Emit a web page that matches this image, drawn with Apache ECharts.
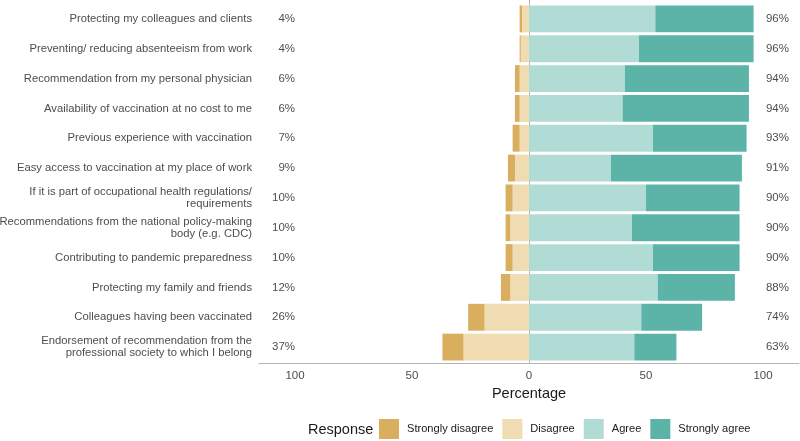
<!DOCTYPE html>
<html><head><meta charset="utf-8">
<script src="https://cdn.jsdelivr.net/npm/echarts@6/dist/echarts.min.js"></script>
<style>html,body{margin:0;padding:0;background:#fff}#c{width:800px;height:441px}</style>
</head><body><div id="c"></div>
<script>
const categories = [
  "Protecting my colleagues and clients",
  "Preventing/ reducing absenteeism from work",
  "Recommendation from my personal physician",
  "Availability of vaccination at no cost to me",
  "Previous experience with vaccination",
  "Easy access to vaccination at my place of work",
  "If it is part of occupational health regulations/\nrequirements",
  "Recommendations from the national policy-making\nbody (e.g. CDC)",
  "Contributing to pandemic preparedness",
  "Protecting my family and friends",
  "Colleagues having been vaccinated",
  "Endorsement of recommendation from the\nprofessional society to which I belong"
];
const stronglyDisagree = [1, 0.5, 2, 2, 3, 3, 3, 2, 3, 4, 7, 9];
const disagree         = [3, 3.5, 4, 4, 4, 6, 7, 8, 7, 8, 19, 28];
const agree            = [54, 47, 41, 40, 53, 35, 50, 44, 53, 55, 48, 45];
const stronglyAgree    = [42, 49, 53, 54, 40, 56, 40, 46, 37, 33, 26, 18];
const xTickValues = [-100, -50, 0, 50, 100];
const legendNames = ["Strongly disagree", "Disagree", "Agree", "Strongly agree"];

const FONT = '"Liberation Sans", Arial, sans-serif';
const colors = { sd: '#d9ae5f', d: '#efdcb3', a: '#b1dcd6', sa: '#5cb4a9' };
const XMIN = -115.4, XMAX = 115.4;

const negTotals = stronglyDisagree.map((v, i) => Math.round(v + disagree[i]));
const posTotals = agree.map((v, i) => Math.round(v + stronglyAgree[i]));

const chart = echarts.init(document.getElementById('c'), null, { renderer: 'canvas' });
chart.setOption({
  animation: false,
  backgroundColor: '#fff',
  textStyle: { fontFamily: FONT },
  grid: [
    { left: 259, right: 1, top: 4, height: 358, containLabel: false, outerBoundsMode: 'none' },
    { left: 259, right: 1, top: 0, height: 363, containLabel: false, outerBoundsMode: 'none' }
  ],
  xAxis: [
    { gridIndex: 0, type: 'value', min: XMIN, max: XMAX, show: false },
    { gridIndex: 1, type: 'value', min: XMIN, max: XMAX,
      axisLine: { show: true, lineStyle: { color: '#b5b5b5', width: 1 } },
      axisTick: { show: false },
      splitLine: { show: false },
      axisLabel: { customValues: xTickValues, color: '#4d4d4d', fontSize: 11.5, fontFamily: FONT, margin: 7,
        formatter: v => String(Math.abs(v)) },
      name: 'Percentage', nameLocation: 'middle', nameGap: 17,
      nameTextStyle: { fontSize: 14.5, color: '#1a1a1a', fontFamily: FONT, verticalAlign: 'top' }
    }
  ],
  yAxis: [
    { gridIndex: 0, type: 'category', data: categories, inverse: true,
      axisLine: { show: false }, axisTick: { show: false }, splitLine: { show: false },
      axisLabel: { color: '#4d4d4d', fontSize: 11.25, lineHeight: 12.5, margin: 7, fontFamily: FONT, align: 'right' }
    },
    { gridIndex: 1, type: 'value', min: 0, max: 1,
      axisLine: { show: true, lineStyle: { color: '#b5b5b5', width: 1 } },
      axisTick: { show: false }, axisLabel: { show: false }, splitLine: { show: false }
    }
  ],
  legend: {
    data: legendNames, left: 374, top: 414, icon: 'rect', itemWidth: 20, itemHeight: 20, itemGap: 9,
    textStyle: { fontSize: 11.1, color: '#1a1a1a', fontFamily: FONT, padding: [0, 0, 0, 3] },
    selectedMode: false
  },
  graphic: [
    { type: 'text', left: 308, top: 422, style: { text: 'Response', fontSize: 14.5, fill: '#1a1a1a', fontFamily: FONT } }
  ],
  series: [
    { type: 'scatter', xAxisIndex: 0, yAxisIndex: 0, z: 0, symbolSize: 0, silent: true,
      data: negTotals.map((v, i) => [-100, i, v]),
      label: { show: true, position: 'left', distance: 0, color: '#1a1a1a', fontSize: 11.5, fontFamily: FONT,
        formatter: p => p.data[2] + '%' },
      markLine: { silent: true, symbol: 'none', label: { show: false }, z: 0,
        lineStyle: { color: '#000', width: 1, type: 'solid' }, data: [{ xAxis: 0 }] }
    },
    { type: 'scatter', xAxisIndex: 0, yAxisIndex: 0, z: 0, symbolSize: 0, silent: true,
      data: posTotals.map((v, i) => [111.1, i, v]),
      label: { show: true, position: 'left', distance: 0, color: '#1a1a1a', fontSize: 11.5, fontFamily: FONT,
        formatter: p => p.data[2] + '%' }
    },
    { name: 'Disagree', type: 'bar', stack: 'all', z: 5, xAxisIndex: 0, yAxisIndex: 0, barWidth: '90%',
      itemStyle: { color: colors.d }, data: disagree.map(v => -v) },
    { name: 'Strongly disagree', type: 'bar', stack: 'all', z: 5, xAxisIndex: 0, yAxisIndex: 0, barWidth: '90%',
      itemStyle: { color: colors.sd }, data: stronglyDisagree.map(v => -v) },
    { name: 'Agree', type: 'bar', stack: 'all', z: 5, xAxisIndex: 0, yAxisIndex: 0, barWidth: '90%',
      itemStyle: { color: colors.a }, data: agree },
    { name: 'Strongly agree', type: 'bar', stack: 'all', z: 5, xAxisIndex: 0, yAxisIndex: 0, barWidth: '90%',
      itemStyle: { color: colors.sa }, data: stronglyAgree }
  ]
});
</script>
</body></html>
